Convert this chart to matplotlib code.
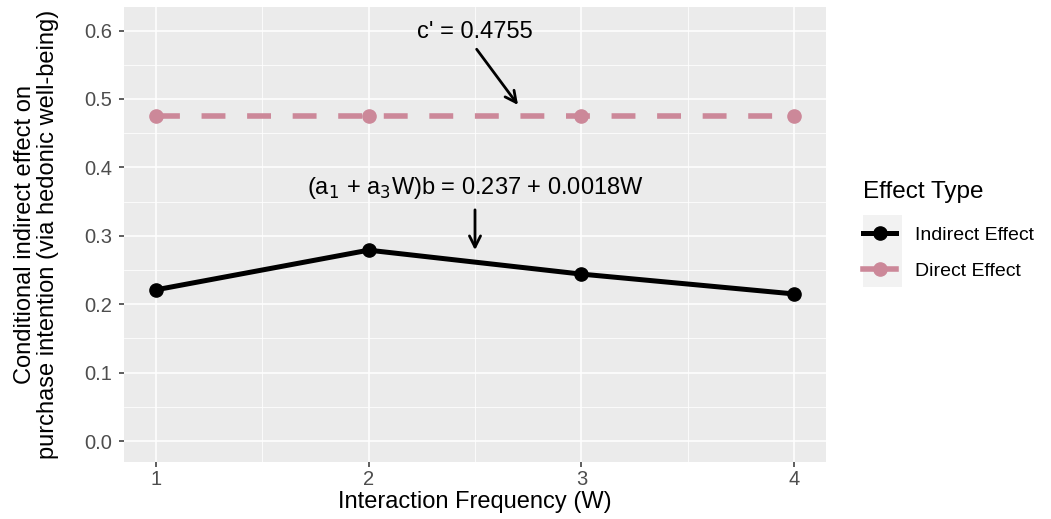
import numpy as np
import matplotlib.pyplot as plt
from matplotlib.lines import Line2D
from matplotlib.patches import Rectangle

freq = [1, 2, 3, 4]
indirect = [0.221, 0.279, 0.244, 0.215]
direct = [0.4755, 0.4755, 0.4755, 0.4755]
yticks = [0.0, 0.1, 0.2, 0.3, 0.4, 0.5, 0.6]

PINK = '#cc8899'
BG = '#ebebeb'
W, H = 1051, 519

plt.rcParams['font.family'] = ['Liberation Sans', 'DejaVu Sans']

fig = plt.figure(figsize=(W / 100, H / 100), dpi=100)
ax = fig.add_axes([124 / W, 1 - 462 / H, 702 / W, 455 / H])
ax.set_facecolor(BG)

ax.set_xlim(0.85, 4.15)
ax.set_ylim(-0.0307, 0.6345)
ax.set_xticks(freq)
ax.set_yticks(yticks)
ax.set_yticklabels([f'{v:.1f}' for v in yticks])
ax.set_xticks([1.5, 2.5, 3.5], minor=True)
ax.set_yticks(np.arange(0.05, 0.65, 0.1), minor=True)
ax.grid(which='major', color='white', lw=1.1)
ax.grid(which='minor', color='white', lw=0.55)
ax.set_axisbelow(True)
for s in ax.spines.values():
    s.set_visible(False)
ax.tick_params(which='major', length=3.5, width=1.1, color='#333333',
               labelsize=14.5, labelcolor='#4d4d4d', pad=2.5)
ax.tick_params(axis='y', pad=5)
ax.tick_params(which='minor', length=0)

ax.plot(freq, direct, color=PINK, lw=4, ls=(0, (4.3, 3.9)), marker='o', ms=9.5)
ax.plot(freq, indirect, color='black', lw=3.6, marker='o', ms=9.5)

ax.text(2.5, 0.598, "c' = 0.4755", ha='center', va='center', fontsize=17)
ax.annotate('', xy=(2.71, 0.488), xytext=(2.5, 0.576),
            arrowprops=dict(arrowstyle='->', lw=2, color='black', mutation_scale=20))
ax.text(2.5, 0.37, r'(a$_1$ + a$_3$W)b = 0.237 + 0.0018W', ha='center', va='center',
        fontsize=17)
ax.annotate('', xy=(2.5, 0.275), xytext=(2.5, 0.342),
            arrowprops=dict(arrowstyle='->', lw=2, color='black', mutation_scale=20))

ax.set_xlabel('Interaction Frequency (W)', fontsize=17, labelpad=1.5)
ax.set_ylabel('Conditional indirect effect on\npurchase intention (via hedonic well-being)',
              fontsize=17, labelpad=18, linespacing=1.05)

# legend: title as plain text, grey background behind the keys
fig.text(863 / W, 1 - 192 / H, 'Effect Type', fontsize=17.5, ha='left', va='center')
fig.add_artist(Rectangle((863 / W, 1 - 287 / H), 39 / W, 72 / H,
                         transform=fig.transFigure, facecolor='#f2f2f2',
                         edgecolor='none', zorder=1))

handles = [Line2D([], [], color='black', lw=3.6, marker='o', ms=9.5),
           Line2D([], [], color=PINK, lw=4, marker='o', ms=9.5)]
leg = fig.legend(handles, ['Indirect Effect', 'Direct Effect'],
                 loc='center left', bbox_to_anchor=(863 / W, 1 - 253 / H),
                 frameon=False, fontsize=14, handlelength=1.7, borderpad=0,
                 borderaxespad=0, handletextpad=0.95, labelspacing=0.95)
leg.set_zorder(5)

fig.savefig('out.png', dpi=100, facecolor='white')
